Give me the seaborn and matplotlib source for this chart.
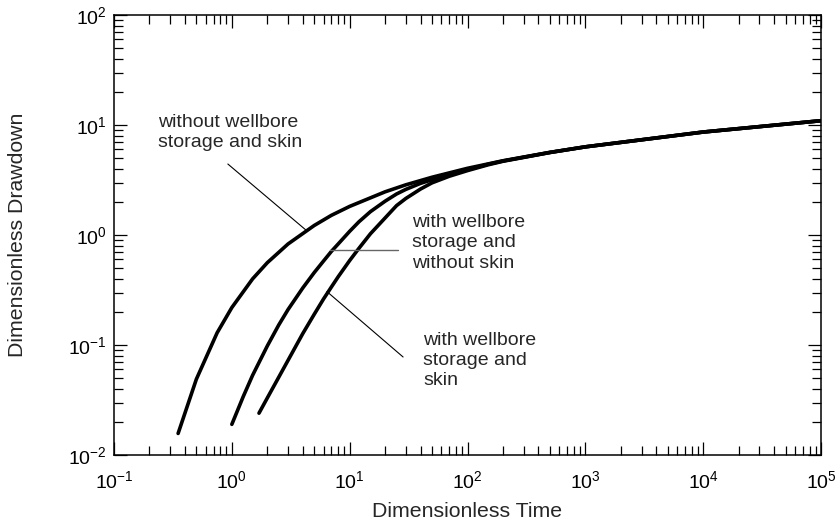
import matplotlib
matplotlib.use("Agg")
import matplotlib.pyplot as plt
import matplotlib.ticker as mticker
import numpy as np
import pandas as pd
import seaborn as sns

# ---- data ----
t_no_storage = [0.35, 0.5, 0.75, 1.0, 1.5, 2, 3, 5, 7, 10, 20, 30, 50, 100, 200, 500, 1000, 1e4, 1e5]
p_no_storage = [0.0157, 0.0489, 0.129, 0.219, 0.399, 0.560, 0.829, 1.22, 1.51, 1.82, 2.47, 2.86,
                3.35, 4.04, 4.73, 5.64, 6.33, 8.63, 10.94]

t_storage = [1.0, 1.25, 1.5, 2, 2.5, 3, 4, 5, 6, 7, 8, 10, 12, 15, 20, 25, 30, 40, 50, 70,
             100, 150, 200, 500, 1000, 1e4, 1e5]
p_storage = [0.019, 0.034, 0.053, 0.098, 0.152, 0.210, 0.33, 0.455, 0.58, 0.71, 0.83, 1.08,
             1.32, 1.63, 2.03, 2.36, 2.60, 2.95, 3.18, 3.52, 3.92, 4.40, 4.71, 5.63, 6.33,
             8.63, 10.94]

t_storage_skin = [1.7, 2, 2.5, 3, 4, 5, 6, 7, 8, 10, 12, 15, 20, 25, 30, 40, 50, 70, 100,
                  150, 200, 500, 1000, 1e4, 1e5]
p_storage_skin = [0.024, 0.033, 0.0509, 0.0726, 0.127, 0.190, 0.262, 0.337, 0.418, 0.586,
                  0.758, 1.026, 1.43, 1.85, 2.15, 2.62, 2.98, 3.42, 3.85, 4.35, 4.68, 5.62,
                  6.33, 8.63, 10.94]

x_ticks = [0.1, 1, 10, 100, 1000, 1e4, 1e5]
y_ticks = [0.01, 0.1, 1, 10, 100]

labels = ["without wellbore\nstorage and skin",
          "with wellbore\nstorage and\nwithout skin",
          "with wellbore\nstorage and\nskin"]

x_label = "Dimensionless Time"
y_label = "Dimensionless Drawdown"

df = pd.concat([
    pd.DataFrame({"t": t_no_storage, "p": p_no_storage, "case": "a"}),
    pd.DataFrame({"t": t_storage, "p": p_storage, "case": "b"}),
    pd.DataFrame({"t": t_storage_skin, "p": p_storage_skin, "case": "c"}),
], ignore_index=True)

sns.set_style("ticks")
plt.rcParams["font.family"] = ["Liberation Sans", "DejaVu Sans"]
plt.rcParams["axes.unicode_minus"] = False
plt.rcParams["mathtext.fontset"] = "custom"
plt.rcParams["mathtext.rm"] = "Liberation Sans"

fig = plt.figure(figsize=(8.38, 5.24), dpi=100)
ax = fig.add_axes([114 / 838, 1 - 455 / 524, (821 - 114) / 838, (455 - 15) / 524])
ax.set_xscale("log")
ax.set_yscale("log")

sns.lineplot(data=df, x="t", y="p", units="case", estimator=None, sort=False,
             color="black", linewidth=2.6, ax=ax, legend=False)

ax.set_xlim(x_ticks[0], x_ticks[-1])
ax.set_ylim(y_ticks[0], y_ticks[-1])

ax.xaxis.set_major_locator(mticker.FixedLocator(x_ticks))
ax.yaxis.set_major_locator(mticker.FixedLocator(y_ticks))
ax.xaxis.set_major_formatter(mticker.LogFormatterSciNotation())
ax.yaxis.set_major_formatter(mticker.LogFormatterSciNotation())
ax.xaxis.set_minor_locator(mticker.LogLocator(base=10, subs=np.arange(2, 10), numticks=20))
ax.yaxis.set_minor_locator(mticker.LogLocator(base=10, subs=np.arange(2, 10), numticks=20))
ax.xaxis.set_minor_formatter(mticker.NullFormatter())
ax.yaxis.set_minor_formatter(mticker.NullFormatter())

ax.tick_params(which="both", direction="in", top=True, right=True, width=0.9, colors="black")
ax.tick_params(which="major", length=9.5, labelsize=14)
ax.tick_params(which="minor", length=6.5)
ax.tick_params(axis="x", which="major", pad=11)
ax.tick_params(axis="y", which="major", pad=5)

for s in ax.spines.values():
    s.set_linewidth(1.1)
    s.set_color("black")

ax.set_xlabel(x_label, fontsize=15.3, labelpad=7)
ax.set_ylabel(y_label, fontsize=15.3, labelpad=30)

# leader lines
ax.plot([0.925, 4.25], [4.42, 1.11], color="black", linewidth=0.8)
ax.plot([6.8, 25.7], [0.738, 0.738], color="#666666", linewidth=1.0)
ax.plot([6.41, 28.4], [0.306, 0.0778], color="black", linewidth=0.8)

ax.text(0.235, 8.55, labels[0], fontsize=14, ha="left", va="center", linespacing=1.26)
ax.text(33.8, 0.846, labels[1], fontsize=14, ha="left", va="center", linespacing=1.26)
ax.text(42, 0.0723, labels[2], fontsize=14, ha="left", va="center", linespacing=1.26)

fig.savefig("out.png", dpi=100)
